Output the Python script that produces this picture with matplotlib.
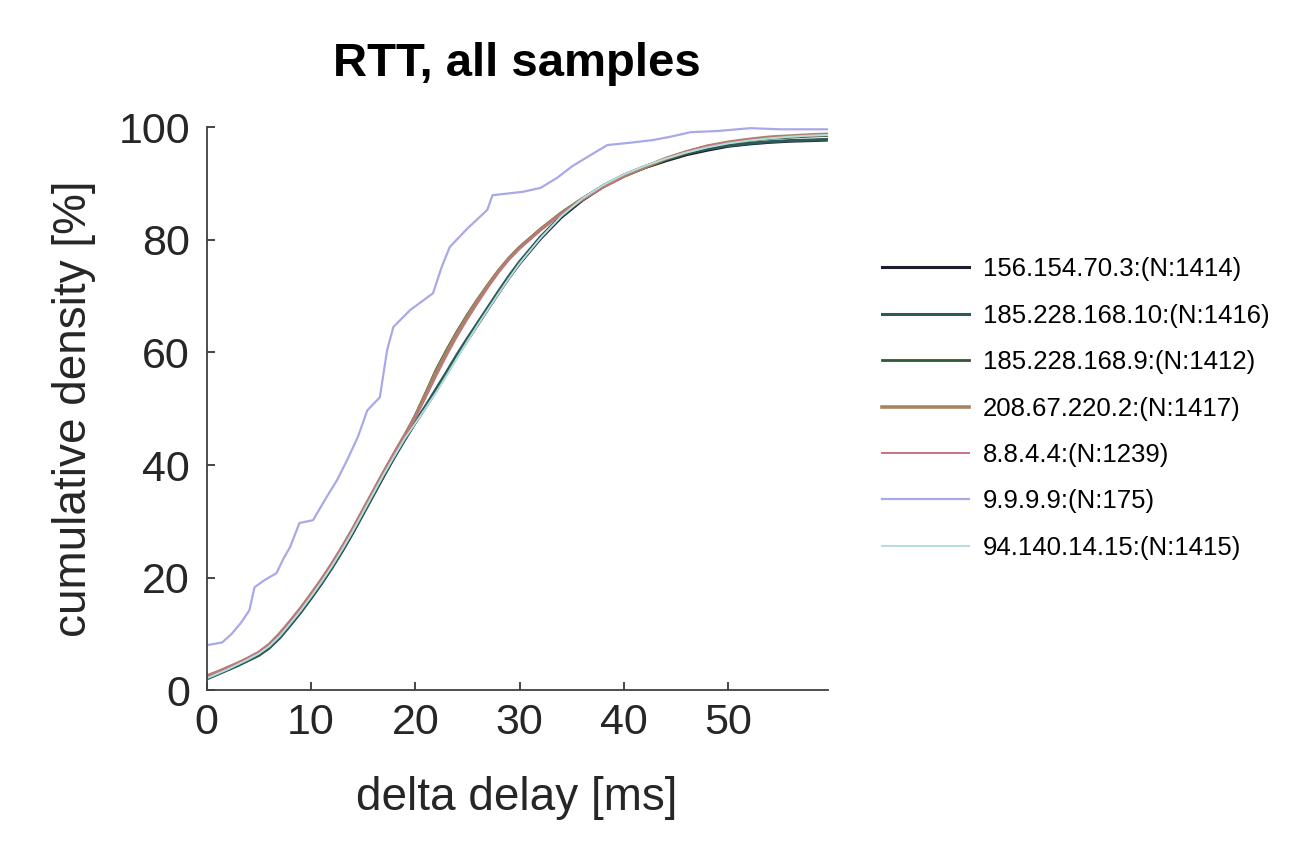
import numpy as np
import matplotlib
matplotlib.use("Agg")
import matplotlib.pyplot as plt

plt.rcParams['font.family'] = ['Liberation Sans', 'DejaVu Sans']

# shared delay grid [ms] for the big-sample resolvers
x_main = [0, 1, 2, 3, 4, 5, 6, 7, 8, 9, 10, 11, 12, 13, 14, 15, 16, 17, 18, 19,
          20, 21, 22, 23, 24, 25, 26, 27, 28, 29, 30, 32, 34, 36, 38, 40, 42, 44,
          46, 48, 50, 52, 54, 56, 58, 59.5]

cdf_156 = [2.2, 2.9, 3.7, 4.5, 5.4, 6.3, 7.6, 9.4, 11.6, 13.9, 16.4, 19.0, 21.8, 24.8, 28.0,
           31.4, 34.8, 38.2, 41.5, 44.6, 47.5, 50.3, 53.2, 56.2, 59.3, 62.2, 65.0, 67.8, 70.6,
           73.3, 75.8, 80.2, 84.0, 87.0, 89.4, 91.3, 92.8, 94.0, 95.1, 95.9, 96.6, 97.0, 97.3,
           97.5, 97.6, 97.7]
cdf_185_10 = [2.0, 2.8, 3.6, 4.4, 5.3, 6.2, 7.5, 9.3, 11.5, 13.8, 16.3, 18.9, 21.7, 24.7, 27.9,
              31.3, 34.7, 38.1, 41.4, 44.5, 47.6, 50.5, 53.5, 56.5, 59.6, 62.5, 65.3, 68.1, 70.9,
              73.6, 76.1, 80.5, 84.2, 87.2, 89.6, 91.5, 93.0, 94.2, 95.3, 96.1, 96.7, 97.1, 97.4,
              97.6, 97.7, 97.8]
cdf_185_9 = [2.4, 3.1, 3.9, 4.7, 5.6, 6.6, 8.0, 9.9, 12.1, 14.4, 16.9, 19.5, 22.3, 25.3, 28.5,
             31.9, 35.3, 38.7, 42.0, 45.2, 48.8, 52.8, 56.9, 60.4, 63.7, 66.7, 69.5, 72.1, 74.6,
             76.8, 78.7, 81.9, 84.8, 87.3, 89.5, 91.3, 92.8, 94.2, 95.4, 96.4, 97.1, 97.6, 98.0,
             98.2, 98.4, 98.5]
cdf_208 = [2.5, 3.2, 4.0, 4.8, 5.7, 6.7, 8.1, 10.0, 12.2, 14.5, 17.0, 19.6, 22.4, 25.4, 28.6,
           32.0, 35.4, 38.8, 42.1, 45.3, 48.6, 52.5, 56.5, 60.0, 63.4, 66.4, 69.3, 72.0, 74.5,
           76.7, 78.6, 81.8, 84.7, 87.2, 89.4, 91.3, 92.9, 94.4, 95.6, 96.6, 97.3, 97.8, 98.2,
           98.4, 98.6, 98.7]
cdf_8844 = [2.6, 3.3, 4.1, 4.9, 5.8, 6.8, 8.2, 10.1, 12.3, 14.6, 17.1, 19.7, 22.5, 25.5, 28.7,
            32.1, 35.5, 38.9, 42.2, 45.3, 48.4, 52.0, 55.8, 59.4, 62.8, 65.9, 68.8, 71.6, 74.2,
            76.5, 78.4, 81.7, 84.6, 87.1, 89.4, 91.4, 93.0, 94.5, 95.7, 96.7, 97.3, 97.8, 98.1,
            98.3, 98.5, 98.6]
cdf_9999_x = [0, 1.5, 2.4, 3.3, 4.1, 4.6, 5.5, 6.7, 7.4, 8.0, 8.9, 10.2, 11.5, 12.5, 13.5,
              14.5, 15.4, 16.6, 17.3, 17.9, 19.5, 20.6, 21.7, 22.5, 23.3, 25.0, 26.9, 27.4,
              30.3, 32.0, 33.6, 35.0, 36.5, 38.4, 40.5, 42.8, 44.5, 46.4, 49.0, 52.1, 55.0,
              59.5]
cdf_9999 = [8.0, 8.5, 10.0, 12.0, 14.2, 18.3, 19.5, 20.8, 23.5, 25.4, 29.7, 30.2, 34.3, 37.3,
            41.0, 45.0, 49.7, 52.0, 60.4, 64.5, 67.5, 69.0, 70.5, 75.0, 78.7, 82.0, 85.3, 87.9,
            88.5, 89.2, 91.0, 93.0, 94.7, 96.8, 97.2, 97.7, 98.3, 99.1, 99.3, 99.8, 99.6, 99.6]
cdf_94 = [2.1, 2.9, 3.7, 4.6, 5.5, 6.5, 7.8, 9.6, 11.8, 14.1, 16.6, 19.2, 22.0, 25.0, 28.2,
          31.6, 35.0, 38.4, 41.6, 44.7, 47.4, 50.1, 52.9, 55.9, 59.0, 62.0, 64.9, 67.7, 70.5,
          73.2, 75.8, 80.3, 84.2, 87.3, 89.7, 91.6, 93.1, 94.4, 95.5, 96.4, 97.1, 97.6, 98.0,
          98.3, 98.5, 98.6]

labels = ["156.154.70.3:(N:1414)", "185.228.168.10:(N:1416)", "185.228.168.9:(N:1412)",
          "208.67.220.2:(N:1417)", "8.8.4.4:(N:1239)", "9.9.9.9:(N:175)",
          "94.140.14.15:(N:1415)"]
colors = ["#1c1c2e", "#2b5a5a", "#2f5a2f", "#a5845f", "#c27580", "#a9a9e8", "#b4dede"]
widths = [2.2, 2.2, 2.0, 2.6, 1.4, 1.6, 1.4]

series = [(x_main, cdf_156), (x_main, cdf_185_10), (x_main, cdf_185_9), (x_main, cdf_208),
          (x_main, cdf_8844), (cdf_9999_x, cdf_9999), (x_main, cdf_94)]

fig = plt.figure(figsize=(12.91, 8.47), dpi=100)
ax = fig.add_axes([0.160, 0.185, 0.481, 0.665])

for (xs, ys), lab, c, w in zip(series, labels, colors, widths):
    ax.plot(xs, ys, color=c, lw=w, label=lab)

ax.set_xlim(0, 59.5)
ax.set_ylim(0, 100)
ax.set_xticks([0, 10, 20, 30, 40, 50])
ax.set_yticks([0, 20, 40, 60, 80, 100])
ax.tick_params(direction='in', length=6, width=1.2, labelsize=31, colors='#262626')
ax.tick_params(axis='y', pad=12)
ax.tick_params(axis='x', pad=9)
for s in ['top', 'right']:
    ax.spines[s].set_visible(False)
for s in ['left', 'bottom']:
    ax.spines[s].set_color('#404040')
    ax.spines[s].set_linewidth(1.3)

ax.set_xlabel("delta delay [ms]", fontsize=33, color='#262626', labelpad=24)
ax.set_ylabel("cumulative density [%]", fontsize=33, color='#262626', labelpad=16)
ax.set_title("RTT, all samples", fontsize=34, fontweight='bold', pad=37)

ax.legend(loc='upper left', bbox_to_anchor=(0.683, 0.696), bbox_transform=fig.transFigure,
          frameon=False, fontsize=18.5, handlelength=3.4, handletextpad=0.55,
          labelspacing=0.87, borderpad=0, borderaxespad=0)

fig.savefig("out.png", dpi=100, facecolor='white')
